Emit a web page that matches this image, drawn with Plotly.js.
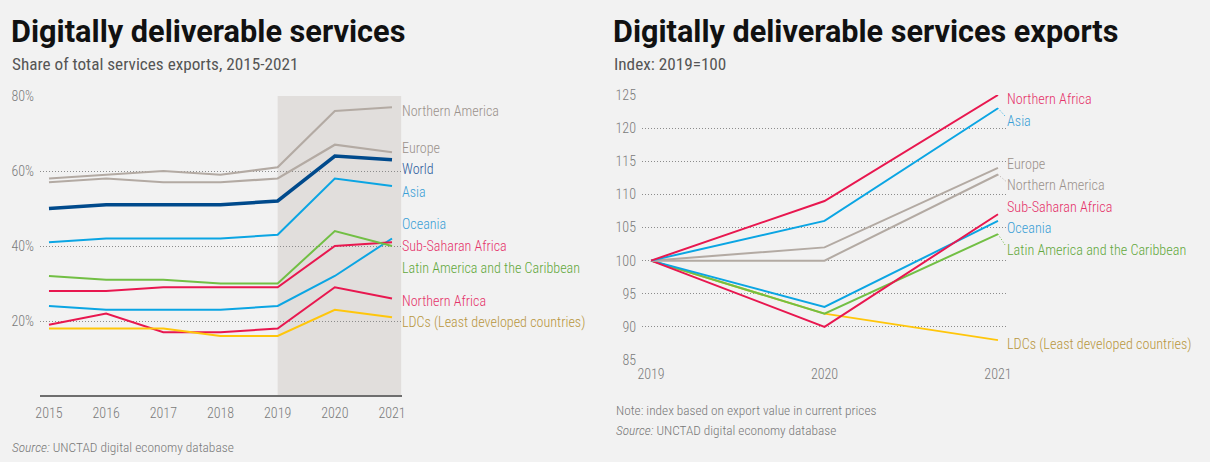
<!DOCTYPE html>
<html><head><meta charset="utf-8">
<script src="https://cdn.plot.ly/plotly-3.0.1.min.js"></script>
<style>html,body{margin:0;padding:0;background:#f2f2f2;}#chart{width:1210px;height:462px;}</style>
</head><body><div id="chart"></div>
<script>
// ---------- Data: left chart (share of total services exports, %) ----------
const yearsLeft = [2015, 2016, 2017, 2018, 2019, 2020, 2021];
const shareNorthernAmerica = [58, 59, 60, 59, 61, 76, 77];
const shareEurope          = [57, 58, 57, 57, 58, 67, 65];
const shareWorld           = [50, 51, 51, 51, 52, 64, 63];
const shareAsia            = [41, 42, 42, 42, 43, 58, 56];
const shareLatinAmerica    = [32, 31, 31, 30, 30, 44, 40];
const shareSubSaharan      = [28, 28, 29, 29, 29, 40, 41];
const shareOceania         = [24, 23, 23, 23, 24, 32, 42];
const shareNorthernAfrica  = [19, 22, 17, 17, 18, 29, 26];
const shareLDCs            = [18, 18, 18, 16, 16, 23, 21];
const leftTickVals  = [20, 40, 60, 80];
const leftTickText  = ['20%', '40%', '60%', '80%'];

// ---------- Data: right chart (index 2019=100) ----------
const yearsRight = [2019, 2020, 2021];
const idxNorthernAfrica = [100, 109, 125];
const idxAsia           = [100, 106, 123];
const idxEurope         = [100, 102, 114];
const idxNorthernAmerica= [100, 100, 113];
const idxSubSaharan     = [100, 90, 107];
const idxOceania        = [100, 93, 106];
const idxLatinAmerica   = [100, 92, 104];
const idxLDCs           = [100, 92, 88];
const rightTickVals = [85, 90, 95, 100, 105, 110, 115, 120, 125];

// ---------- Styles ----------
const C = {
  grey: '#b3aaa3', greyText: '#9a918b',
  world: '#004a8c', worldText: '#2d5c9c',
  blue: '#0ba5e3', blueText: '#3a9fd6',
  red: '#e8174f', redText: '#e5336a',
  green: '#72bf44', greenText: '#62a83c',
  yellow: '#ffc60b', yellowText: '#b8963e'
};
const FONT = 'Roboto Condensed, Roboto, sans-serif';
const TFONT = 'Roboto, sans-serif';

const leftSeries = [
  {name: 'Northern America', y: shareNorthernAmerica, c: C.grey, t: C.greyText, w: 2.2, ly: 76},
  {name: 'Europe', y: shareEurope, c: C.grey, t: C.greyText, w: 2.2, ly: 66.2},
  {name: 'World', y: shareWorld, c: C.world, t: C.worldText, w: 3.5, ly: 60.5},
  {name: 'Asia', y: shareAsia, c: C.blue, t: C.blueText, w: 2, ly: 54.5},
  {name: 'Oceania', y: shareOceania, c: C.blue, t: C.blueText, w: 2, ly: 45.9},
  {name: 'Sub-Saharan Africa', y: shareSubSaharan, c: C.red, t: C.redText, w: 2, ly: 40.1},
  {name: 'Latin America and the Caribbean', y: shareLatinAmerica, c: C.green, t: C.greenText, w: 2, ly: 34.1},
  {name: 'Northern Africa', y: shareNorthernAfrica, c: C.red, t: C.redText, w: 2, ly: 25.4},
  {name: 'LDCs (Least developed countries)', y: shareLDCs, c: C.yellow, t: C.yellowText, w: 2, ly: 19.5}
];
const rightSeries = [
  {name: 'Northern Africa', y: idxNorthernAfrica, c: C.red, t: C.redText, ly: 124.4},
  {name: 'Asia', y: idxAsia, c: C.blue, t: C.blueText, ly: 121.1},
  {name: 'Europe', y: idxEurope, c: C.grey, t: C.greyText, ly: 114.6},
  {name: 'Northern America', y: idxNorthernAmerica, c: C.grey, t: C.greyText, ly: 111.4},
  {name: 'Sub-Saharan Africa', y: idxSubSaharan, c: C.red, t: C.redText, ly: 108.1},
  {name: 'Oceania', y: idxOceania, c: C.blue, t: C.blueText, ly: 105},
  {name: 'Latin America and the Caribbean', y: idxLatinAmerica, c: C.green, t: C.greenText, ly: 101.6},
  {name: 'LDCs (Least developed countries)', y: idxLDCs, c: C.yellow, t: C.yellowText, ly: 87.4}
];

const W = 1210, H = 462;
const px = x => x / W;
const py = y => (H - y) / H;

const traces = [];
const leftOrder = [0,1,3,4,5,6,7,8,2];
leftOrder.forEach(i => {
  const s = leftSeries[i];
  traces.push({x: yearsLeft, y: s.y, type: 'scatter', mode: 'lines', xaxis: 'x', yaxis: 'y',
    line: {color: s.c, width: s.w}, hoverinfo: 'skip', showlegend: false});
});
rightSeries.slice().reverse().forEach(s => {
  traces.push({x: yearsRight, y: s.y, type: 'scatter', mode: 'lines', xaxis: 'x2', yaxis: 'y2',
    line: {color: s.c, width: 2}, hoverinfo: 'skip', showlegend: false});
});

const annotations = [];
const shapes = [];
shapes.push({type: 'rect', xref: 'x', yref: 'y', x0: 2019, x1: 2021.16, y0: 0, y1: 80,
  fillcolor: '#e1dedc', line: {width: 0}, layer: 'below'});

leftSeries.forEach(s => {
  annotations.push({xref: 'x', yref: 'y', x: 2021.16, y: s.ly, text: s.name, showarrow: false,
    xanchor: 'left', yanchor: 'middle', xshift: -1, font: {family: FONT, size: 14.1, color: s.t, weight: 300}});
});
rightSeries.forEach(s => {
  annotations.push({xref: 'x2', yref: 'y2', x: 2021.052, y: s.ly, text: s.name, showarrow: false,
    xanchor: 'left', yanchor: 'middle', xshift: -2, font: {family: FONT, size: 14.2, color: s.t, weight: 300}});
  const last = s.y[s.y.length - 1];
  if (Math.abs(last - s.ly) > 1.2) {
    shapes.push({type: 'line', xref: 'x2', yref: 'y2', x0: 2021, x1: 2021.045,
      y0: last, y1: s.ly + (s.ly > last ? -0.6 : 0.6), line: {color: s.c, width: 1, dash: '1px,2px'}});
  }
});

const txt = (x, y, text, size, color, weight, fam) => ({xref: 'paper', yref: 'paper', x: px(x), y: py(y),
  text, showarrow: false, xanchor: 'left', yanchor: 'middle',
  font: {family: fam || FONT, size, color, weight: weight || 400}});
annotations.push(txt(9, 31, 'Digitally deliverable services', 30.7, '#111111', 700, TFONT));
annotations.push(txt(10, 64, 'Share of total services exports, 2015-2021', 17.2, '#555555', 400));
annotations.push(txt(611, 31, 'Digitally deliverable services exports', 30.6, '#111111', 700, TFONT));
annotations.push(txt(612, 64, 'Index: 2019=100', 17.2, '#555555', 400));
annotations.push(txt(10, 447, '<i>Source:</i> UNCTAD digital economy database', 13.4, '#787878', 300));
annotations.push(txt(614, 410, 'Note: index based on export value in current prices', 13.3, '#787878', 300));
annotations.push(txt(614, 430, '<i>Source:</i> UNCTAD digital economy database', 13.3, '#787878', 300));

const tickFont = {family: FONT, size: 14, color: '#7a7a7a', weight: 300};
const GRID = {showgrid: true, gridcolor: '#8c8c8c', griddash: '1px,2px', gridwidth: 1};
const layout = {
  width: W, height: H,
  margin: {l: 0, r: 0, t: 0, b: 0},
  paper_bgcolor: '#f2f2f2', plot_bgcolor: 'rgba(0,0,0,0)',
  showlegend: false,
  xaxis: {domain: [px(40), px(402)], range: [2014.843, 2021.175], tickvals: yearsLeft,
    ticktext: yearsLeft.map(String), showgrid: false, zeroline: false, showline: false,
    ticks: '', tickfont: tickFont, ticklabelstandoff: 7, fixedrange: true},
  yaxis: Object.assign({domain: [py(396), py(96)], range: [0, 80], tickvals: leftTickVals, ticktext: leftTickText,
    zeroline: true, zerolinecolor: '#6e6e6e', zerolinewidth: 1.5, showline: false, ticks: '',
    tickfont: tickFont, ticklabelstandoff: 5, fixedrange: true}, GRID),
  xaxis2: {domain: [px(642), px(1007)], range: [2018.948, 2021.052], tickvals: yearsRight,
    ticktext: yearsRight.map(String), showgrid: false, zeroline: false, showline: false,
    ticks: '', tickfont: tickFont, ticklabelstandoff: 4, fixedrange: true, anchor: 'y2'},
  yaxis2: Object.assign({domain: [py(360), py(95)], range: [85, 125], tickvals: rightTickVals,
    zeroline: false, showline: false, ticks: '', tickfont: tickFont, ticklabelstandoff: 5,
    fixedrange: true, anchor: 'x2'}, GRID),
  shapes, annotations
};
Plotly.newPlot('chart', traces, layout, {displayModeBar: false, staticPlot: true});
</script></body></html>
